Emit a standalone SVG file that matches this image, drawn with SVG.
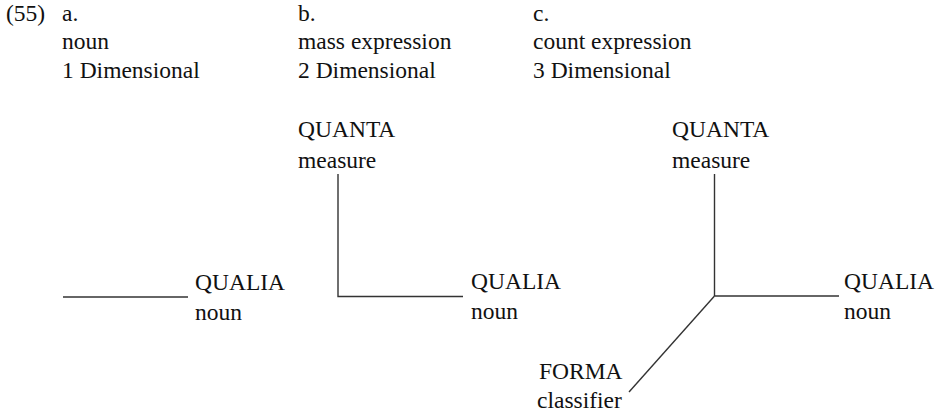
<svg xmlns="http://www.w3.org/2000/svg" width="943" height="416" viewBox="0 0 943 416">
<style>
text{font-family:"Liberation Serif","Times New Roman",serif;font-size:23.5px;fill:#111}
.ln{stroke:#333;stroke-width:1.4;fill:none}
</style>
<rect width="943" height="416" fill="#fff"/>
<g id="header">
<text x="6" y="21">(55)</text>
<text x="62" y="21">a.</text>
<text x="62" y="49">noun</text>
<text x="62" y="78">1 Dimensional</text>
<text x="298" y="21">b.</text>
<text x="298" y="49">mass expression</text>
<text x="298" y="78">2 Dimensional</text>
<text x="533" y="21">c.</text>
<text x="533" y="49">count expression</text>
<text x="533" y="78">3 Dimensional</text>
</g>
<g id="a-qualia"><text x="195" y="290">QUALIA</text><text x="195" y="320">noun</text></g>
<g id="b-quanta"><text x="298" y="137">QUANTA</text><text x="298" y="168">measure</text></g>
<g id="b-qualia"><text x="471" y="289">QUALIA</text><text x="471" y="319">noun</text></g>
<g id="c-quanta"><text x="672" y="137">QUANTA</text><text x="672" y="168">measure</text></g>
<g id="c-qualia"><text x="844" y="289">QUALIA</text><text x="844" y="319">noun</text></g>
<g id="c-forma"><text x="539" y="379">FORMA</text><text x="537" y="408">classifier</text></g>
<g id="connectors">
<line class="ln" x1="63" y1="297" x2="188" y2="297"/>
<polyline class="ln" points="338,174 338,296.5 463,296.5"/>
<line class="ln" x1="714.5" y1="174" x2="714.5" y2="296"/>
<line class="ln" x1="714.5" y1="296" x2="839" y2="296"/>
<line class="ln" x1="714.5" y1="296" x2="629" y2="392"/>
</g>
</svg>
